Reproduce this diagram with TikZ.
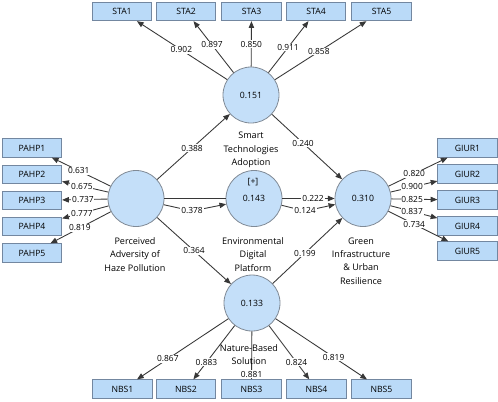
\documentclass[tikz,border=0pt]{standalone}
\usepackage{fontspec}
\setmainfont{Open Sans}
\usetikzlibrary{arrows.meta,calc}
\definecolor{lvfill}{RGB}{196,223,249}
\definecolor{lvdraw}{RGB}{128,138,150}
\definecolor{mvfill}{RGB}{186,218,248}
\definecolor{mvdraw}{RGB}{115,135,160}
\definecolor{edgecol}{RGB}{55,55,55}
\begin{document}
\begin{tikzpicture}[x=0.75pt,y=-0.75pt,
  lv/.style={circle,draw=lvdraw,fill=lvfill,line width=0.6pt,minimum size=42pt,inner sep=0pt,font=\fontsize{6.5}{7}\selectfont},
  mv/.style={rectangle,draw=mvdraw,fill=mvfill,line width=0.7pt,minimum width=44.5pt,minimum height=13.8pt,inner sep=0pt,font=\fontsize{6.5}{7}\selectfont},
  lvname/.style={align=center,font=\fontsize{6.8}{10}\selectfont},
  coef/.style={fill=white,inner sep=0.6pt,font=\fontsize{6.3}{7}\selectfont},
  link/.style={draw=edgecol,line width=0.65pt,-{Triangle[length=5pt,width=4pt]}},
  plainlink/.style={draw=edgecol,line width=0.65pt},
]
\useasboundingbox[fill=white] (0,0) rectangle (498,401);

% latent variables
\node[lv] (sta) at (251,95) {0.151};
\node[lv] (pahp) at (136,198.5) {};
\node[lv] (edp) at (254,198.5) {0.143};
\node[lv] (giur) at (363,198.5) {0.310};
\node[lv] (nbs) at (252,303) {0.133};
\node[font=\fontsize{6.5}{7}\selectfont] (edpplus) at (253,182) {[+]};

% names
\node[lvname] (staname) at (251,150) {Smart\\Technologies\\Adoption};
\node[lvname] (pahpname) at (135,254.5) {Perceived\\Adversity of\\Haze Pollution};
\node[lvname] (edpname) at (253,254.5) {Environmental\\Digital\\Platform};
\node[lvname] (giurname) at (361,261) {Green\\Infrastructure\\\& Urban\\Resilience};

% indicators
\node[mv] (sta1) at (122,11.5) {STA1};
\node[mv] (sta2) at (186,11.5) {STA2};
\node[mv] (sta3) at (251.5,11.5) {STA3};
\node[mv] (sta4) at (316,11.5) {STA4};
\node[mv] (sta5) at (381.5,11.5) {STA5};

\node[mv] (pahp1) at (32,148) {PAHP1};
\node[mv] (pahp2) at (32,174.5) {PAHP2};
\node[mv] (pahp3) at (32,200.5) {PAHP3};
\node[mv] (pahp4) at (32,226.5) {PAHP4};
\node[mv] (pahp5) at (32,253) {PAHP5};

\node[mv] (giur1) at (467.5,148) {GIUR1};
\node[mv] (giur2) at (467.5,174) {GIUR2};
\node[mv] (giur3) at (467.5,200) {GIUR3};
\node[mv] (giur4) at (467.5,226) {GIUR4};
\node[mv] (giur5) at (467.5,251) {GIUR5};

\node[mv] (nbs1) at (122.5,389) {NBS1};
\node[mv] (nbs2) at (186,389) {NBS2};
\node[mv] (nbs3) at (251.5,389) {NBS3};
\node[mv] (nbs4) at (316.5,389) {NBS4};
\node[mv] (nbs5) at (381.5,389) {NBS5};

% outer loadings
\foreach \i in {1,...,5} {
  \draw[link] (sta) -- (sta\i);
  \draw[link] (pahp) -- (pahp\i);
  \draw[link] (giur) -- (giur\i);
  \draw[link] (nbs) -- (nbs\i);
}

% structural paths
\coordinate (b1) at (192,211);
\coordinate (b2) at (305,211);
\draw[link] (pahp) -- (sta);
\draw[link] (sta) -- (giur);
\draw[link] (pahp) -- (nbs);
\draw[link] (nbs) -- (giur);
\draw[plainlink] (pahp) -- (edp);
\draw[link] (pahp) -- (b1) -- (edp);
\draw[link] (edp) -- (giur);
\draw[link] (edp) -- (b2) -- (giur);

\node[lvname] (nbsname) at (249,354.5) {Nature-Based\\Solution};

% coefficient labels
\node[coef] at ($(sta)!0.54!(sta1)$) {0.902};
\node[coef] at ($(sta)!0.60!(sta2)$) {0.897};
\node[coef] at ($(sta)!0.61!(sta3)$) {0.850};
\node[coef] at ($(sta)!0.57!(sta4)$) {0.911};
\node[coef] at ($(sta)!0.52!(sta5)$) {0.858};

\node[coef] at ($(pahp)!0.55!(pahp1)$) {0.631};
\node[coef] at ($(pahp)!0.52!(pahp2)$) {0.675};
\node[coef] at ($(pahp)!0.51!(pahp3)$) {0.737};
\node[coef] at ($(pahp)!0.52!(pahp4)$) {0.777};
\node[coef] at ($(pahp)!0.54!(pahp5)$) {0.819};

\node[coef] at ($(giur)!0.49!(giur1)$) {0.820};
\node[coef] at ($(giur)!0.47!(giur2)$) {0.900};
\node[coef] at ($(giur)!0.47!(giur3)$) {0.825};
\node[coef] at ($(giur)!0.47!(giur4)$) {0.837};
\node[coef] at ($(giur)!0.49!(giur5)$) {0.734};

\node[coef] at ($(nbs)!0.65!(nbs1)$) {0.867};
\node[coef] at ($(nbs)!0.69!(nbs2)$) {0.883};
\node[coef] at ($(nbs)!0.83!(nbs3)$) {0.881};
\node[coef] at ($(nbs)!0.69!(nbs4)$) {0.824};
\node[coef] at ($(nbs)!0.63!(nbs5)$) {0.819};

\node[coef] at ($(pahp)!0.487!(sta)$) {0.388};
\node[coef] at ($(sta)!0.464!(giur)$) {0.240};
\node[coef] at ($(pahp)!0.5!(nbs)$) {0.364};
\node[coef] at ($(nbs)!0.477!(giur)$) {0.199};
\node[coef] at (b1) {0.378};
\node[coef] at (b2) {0.124};
\node[coef] at (313,198.5) {0.222};
\end{tikzpicture}
\end{document}
